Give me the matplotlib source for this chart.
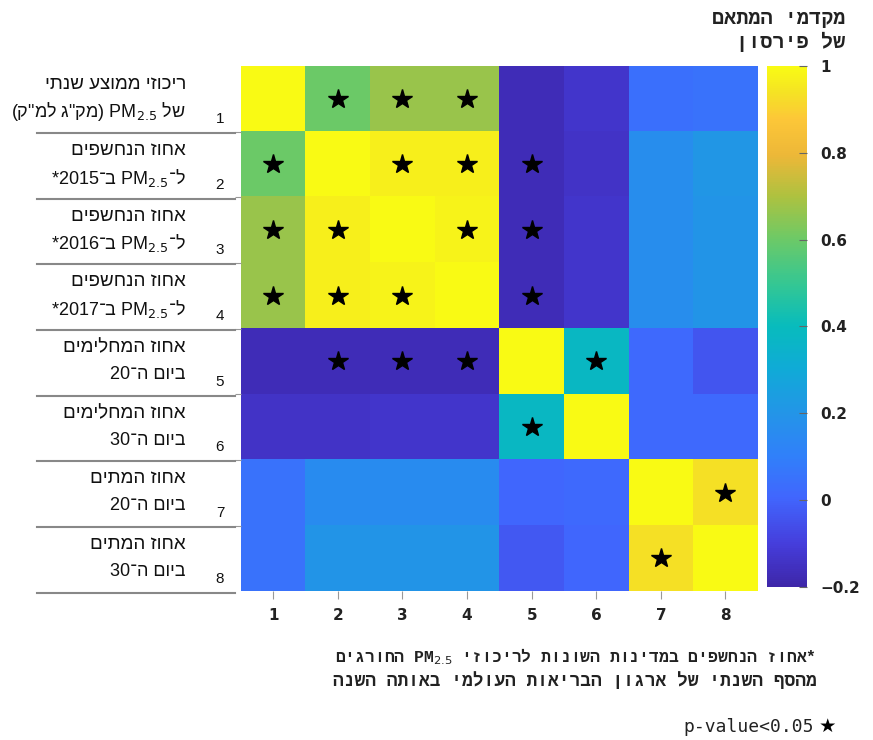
import re
import numpy as np
import matplotlib
matplotlib.use("Agg")
import matplotlib.pyplot as plt
from matplotlib.colors import LinearSegmentedColormap
from matplotlib.transforms import blended_transform_factory
from matplotlib.lines import Line2D

# data
n_vars = 8
var_ids = [1, 2, 3, 4, 5, 6, 7, 8]
row_labels = [
    ["ריכוזי ממוצע שנתי", "של PM$_{2.5}$ (מק\"ג למ\"ק)"],
    ["אחוז הנחשפים", "ל־PM$_{2.5}$ ב־2015*"],
    ["אחוז הנחשפים", "ל־PM$_{2.5}$ ב־2016*"],
    ["אחוז הנחשפים", "ל־PM$_{2.5}$ ב־2017*"],
    ["אחוז המחלימים", "ביום ה־20"],
    ["אחוז המחלימים", "ביום ה־30"],
    ["אחוז המתים", "ביום ה־20"],
    ["אחוז המתים", "ביום ה־30"],
]
corr = np.array([
    [1.00, 0.60, 0.67, 0.67, -0.17, -0.13, 0.04, 0.05],
    [0.60, 1.00, 0.97, 0.97, -0.17, -0.14, 0.17, 0.21],
    [0.67, 0.97, 1.00, 0.98, -0.17, -0.13, 0.17, 0.20],
    [0.67, 0.97, 0.98, 1.00, -0.17, -0.13, 0.17, 0.20],
    [-0.17, -0.17, -0.17, -0.17, 1.00, 0.38, 0.02, -0.04],
    [-0.14, -0.14, -0.13, -0.13, 0.38, 1.00, 0.02, 0.02],
    [0.05, 0.16, 0.16, 0.16, 0.01, 0.02, 1.00, 0.93],
    [0.05, 0.20, 0.20, 0.20, -0.03, 0.01, 0.93, 1.00],
])
# significant cells (row, col), 1-based
sig_cells = [
    (1, 2), (1, 3), (1, 4),
    (2, 1), (2, 3), (2, 4), (2, 5),
    (3, 1), (3, 2), (3, 4), (3, 5),
    (4, 1), (4, 2), (4, 3), (4, 5),
    (5, 2), (5, 3), (5, 4), (5, 6),
    (6, 5),
    (7, 8),
    (8, 7),
]
cbar_title = ["מקדמי המתאם", "של פירסון"]
footnote = ["*אחוז הנחשפים במדינות השונות לריכוזי PM$_{2.5}$ החורגים",
            "מהסף השנתי של ארגון הבריאות העולמי באותה השנה"]
legend_text = "p-value<0.05"
vmin, vmax = -0.2, 1.0

# parula-like colormap
parula = LinearSegmentedColormap.from_list("parula", [
    (0.00, (0.242, 0.150, 0.660)),
    (0.08, (0.272, 0.240, 0.860)),
    (0.17, (0.255, 0.400, 0.995)),
    (0.25, (0.190, 0.500, 0.980)),
    (0.33, (0.140, 0.580, 0.910)),
    (0.42, (0.060, 0.670, 0.840)),
    (0.50, (0.030, 0.735, 0.740)),
    (0.58, (0.200, 0.780, 0.580)),
    (0.67, (0.430, 0.790, 0.400)),
    (0.75, (0.680, 0.760, 0.250)),
    (0.83, (0.930, 0.720, 0.220)),
    (0.90, (0.990, 0.780, 0.220)),
    (0.95, (0.960, 0.890, 0.140)),
    (1.00, (0.977, 0.984, 0.080)),
])

LTR = re.compile(r"[A-Za-z0-9$_{}.<]+")
MIRROR = str.maketrans("()", ")(")


def visual(s):
    # crude right-to-left reordering, matplotlib has no bidi
    parts = []
    pos = 0
    for m in LTR.finditer(s):
        if m.start() > pos:
            parts.append((False, s[pos:m.start()]))
        parts.append((True, m.group()))
        pos = m.end()
    if pos < len(s):
        parts.append((False, s[pos:]))
    out = []
    for is_ltr, p in reversed(parts):
        out.append(p if is_ltr else p[::-1].translate(MIRROR))
    return "".join(out)


label_font = ["Liberation Sans", "DejaVu Sans"]
mono_font = ["Liberation Mono", "DejaVu Sans Mono", "DejaVu Sans"]

fig = plt.figure(figsize=(8.73, 7.40), dpi=100)
ax = fig.add_axes([0.276, 0.201, 0.592, 0.710])
cax = fig.add_axes([0.879, 0.207, 0.045, 0.704])

im = ax.imshow(corr, cmap=parula, vmin=vmin, vmax=vmax, aspect="auto",
               extent=[0.5, n_vars + 0.5, n_vars + 0.5, 0.5])

sr = [r for r, c in sig_cells]
sc = [c for r, c in sig_cells]
ax.plot(sc, sr, linestyle="none", marker="*", ms=15, color="black")

ax.set_xlim(0.5, n_vars + 0.5)
ax.set_ylim(n_vars + 0.5, 0.5)
ax.set_xticks(var_ids)
ax.set_xticklabels([str(v) for v in var_ids], fontsize=11, fontweight="bold",
                   color="#222222")
ax.set_yticks(np.arange(1.5, n_vars, 1))
ax.set_yticklabels([])
ax.tick_params(axis="x", length=6, color="#999999", pad=6)
ax.tick_params(axis="y", length=4, color="#999999")
for sp in ax.spines.values():
    sp.set_visible(False)

# row labels on the left
tr = blended_transform_factory(fig.transFigure, ax.transData)
for i, (l1, l2) in enumerate(row_labels):
    y = var_ids[i]
    fig.text(0.213, y - 0.21, visual(l1), transform=tr, ha="right", va="center",
             fontsize=13.5, family=label_font, color="#111111")
    fig.text(0.213, y + 0.20, visual(l2), transform=tr, ha="right", va="center",
             fontsize=13, family=label_font, color="#111111")
    fig.text(0.252, y + 0.31, str(var_ids[i]), transform=tr, ha="center",
             va="center", fontsize=11, family=label_font, color="#111111")
    fig.add_artist(Line2D([0.042, 0.269], [y + 0.52, y + 0.52], transform=tr,
                          color="#888888", lw=1.5))

# colorbar
cb = fig.colorbar(im, cax=cax, ticks=[-0.2, 0, 0.2, 0.4, 0.6, 0.8, 1])
cb.ax.set_yticklabels(["\u22120.2", "0", "0.2", "0.4", "0.6", "0.8", "1"])
cb.outline.set_visible(False)
cb.ax.tick_params(direction="in", length=6, color="#666666", labelsize=11,
                  pad=10, labelcolor="#222222")
for t in cb.ax.get_yticklabels():
    t.set_fontweight("bold")

fig.text(0.968, 0.975, visual(cbar_title[0]), ha="right", va="center",
         fontsize=14.5, family=mono_font, fontweight="bold", color="#222222")
fig.text(0.968, 0.943, visual(cbar_title[1]), ha="right", va="center",
         fontsize=14.5, family=mono_font, fontweight="bold", color="#222222")

# footnote and legend
fig.text(0.935, 0.113, visual(footnote[0]), ha="right", va="center",
         fontsize=11.8, family=mono_font, fontweight="bold", color="#222222")
fig.text(0.935, 0.080, visual(footnote[1]), ha="right", va="center",
         fontsize=12.9, family=mono_font, fontweight="bold", color="#222222")
fig.text(0.932, 0.018, legend_text, ha="right", va="center",
         fontsize=13, family=["DejaVu Sans Mono"], color="#222222")
fig.text(0.958, 0.018, "\u2605", ha="right", va="center",
         fontsize=14, family=["DejaVu Sans"], color="black")

fig.savefig("out.png", dpi=100, facecolor="white")
